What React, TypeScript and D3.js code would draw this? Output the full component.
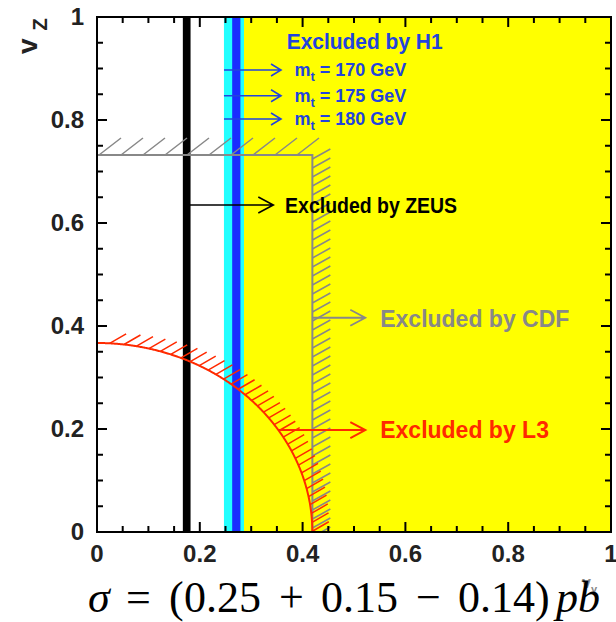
import * as d3 from 'd3';

// axis ticks
const xTickValues = [0, 0.2, 0.4, 0.6, 0.8, 1];
const xTickLabels = ['0', '0.2', '0.4', '0.6', '0.8', '1'];
const yTickValues = [0, 0.2, 0.4, 0.6, 0.8, 1];
const yTickLabels = ['0', '0.2', '0.4', '0.6', '0.8', '1'];
const minorStep = 0.05;

// ZEUS excluded band in v_gamma (black)
const zeusBand = [0.167, 0.182];
// H1 limits for mt = 170 / 175 / 180 GeV
const h1Outer = [0.247, 0.286];
const h1Inner = [0.263, 0.279];
const h1Masses = ['170', '175', '180'];
const h1ArrowVz = [0.897, 0.847, 0.802];
// CDF box limits
const cdfVz = 0.732;
const cdfVg = 0.419;
// L3 ellipse semi-axes
const l3Vg = 0.419;
const l3Vz = 0.367;

const W = 616;
const H = 622;
const margin = { top: 17, right: 5, bottom: 90, left: 97 };

const YELLOW = '#ffff00';
const CYAN = '#22ffff';
const BLUE = '#1a2cff';
const H1TXT = '#2244dd';
const GRAY = '#888888';
const RED = '#ff2a00';

function arrowPath(x0: number, x1: number, y: number, hl: number, hw: number) {
  return `M${x0},${y}L${x1},${y}M${x1 - hl},${y - hw}L${x1},${y}L${x1 - hl},${y + hw}`;
}

export default function App() {
  const x = d3.scaleLinear().domain([0, 1]).range([margin.left, W - margin.right]);
  const y = d3.scaleLinear().domain([0, 1]).range([H - margin.bottom, margin.top]);
  const [x0, x1] = x.range();
  const [y0, y1] = y.range();

  const minors = d3.range(0, 1 + 1e-9, minorStep);
  const isMajor = (v: number) => Math.abs(v / 0.2 - Math.round(v / 0.2)) < 1e-6;

  // CDF hatch strokes
  const cdfH: string[] = [];
  for (let px = x(0) + 2; px <= x(cdfVg) + 2; px += 22) {
    cdfH.push(`M${px},${y(cdfVz)}l22,-17`);
  }
  for (let py = y(cdfVz) + 4; py <= y(0) + 12; py += 9) {
    cdfH.push(`M${x(cdfVg)},${py}l18,-10`);
  }

  // L3 ellipse + hatch
  const theta = d3.range(0, 401).map((i) => (Math.PI / 2) * (1 - i / 400));
  const pts = theta.map((t) => [x(l3Vg * Math.cos(t)), y(l3Vz * Math.sin(t))] as [number, number]);
  const l3Line = d3.line()(pts) || '';
  const a = (30 * Math.PI) / 180;
  const dSp = 8;
  const l3H: string[] = [];
  let prev = Math.floor((pts[0][0] * Math.sin(a) + pts[0][1] * Math.cos(a)) / dSp);
  pts.forEach(([px, py]) => {
    const ph = Math.floor((px * Math.sin(a) + py * Math.cos(a)) / dSp);
    if (ph !== prev) {
      prev = ph;
      l3H.push(`M${px},${py}l${19 * Math.cos(a)},${-19 * Math.sin(a)}`);
    }
  });
  // where the L3 arrow leaves the curve
  const l3ArrowVz = 0.198;
  const l3ArrowVg = l3Vg * Math.sqrt(1 - (l3ArrowVz / l3Vz) ** 2);

  const sans = 'Liberation Sans, Arial, Helvetica, sans-serif';
  const serif = 'Liberation Serif, Times New Roman, serif';

  return (
    <svg
      width={W}
      height={H}
      viewBox={`0 0 ${W} ${H}`}
      style={{ position: 'absolute', left: 0, top: 0, background: '#fff' }}
      fontFamily={sans}
    >
      <defs>
        <clipPath id="plot">
          <rect x={x0} y={y1} width={x1 - x0} height={y0 - y1} />
        </clipPath>
      </defs>

      <g clipPath="url(#plot)">
        {/* H1 exclusion */}
        <rect x={x(h1Outer[1])} y={y1} width={x(1) - x(h1Outer[1])} height={y0 - y1} fill={YELLOW} />
        <rect x={x(h1Outer[0])} y={y1} width={x(h1Outer[1]) - x(h1Outer[0])} height={y0 - y1} fill={CYAN} />
        <rect x={x(h1Inner[0])} y={y1} width={x(h1Inner[1]) - x(h1Inner[0])} height={y0 - y1} fill={BLUE} />

        {/* ZEUS */}
        <rect x={x(zeusBand[0])} y={y1} width={x(zeusBand[1]) - x(zeusBand[0])} height={y0 - y1} fill="#000" />

        {/* CDF */}
        <path d={cdfH.join('')} stroke={GRAY} strokeWidth={1.5} fill="none" />
        <path
          d={`M${x(0)},${y(cdfVz)}L${x(cdfVg)},${y(cdfVz)}L${x(cdfVg)},${y(0)}`}
          stroke={GRAY}
          strokeWidth={2}
          fill="none"
        />

        {/* L3 */}
        <path d={l3H.join('')} stroke={RED} strokeWidth={1.5} fill="none" />
        <path d={l3Line} stroke={RED} strokeWidth={2} fill="none" />
      </g>

      {/* arrows */}
      {h1ArrowVz.map((vz) => (
        <path key={vz} d={arrowPath(x(h1Outer[0]), x(0.358), y(vz), 10, 6)} stroke={H1TXT} strokeWidth={1.6} fill="none" />
      ))}
      <path d={arrowPath(x(0.174), x(0.343), y(0.635), 15, 8)} stroke="#000" strokeWidth={1.6} fill="none" />
      <path d={arrowPath(x(cdfVg), x(0.522), y(0.416), 15, 8)} stroke={GRAY} strokeWidth={1.8} fill="none" />
      <path d={arrowPath(x(l3ArrowVg), x(0.522), y(l3ArrowVz), 15, 8)} stroke={RED} strokeWidth={2} fill="none" />

      {/* labels */}
      <text x={x(0.369)} y={y(0.938)} fill={H1TXT} fontWeight="bold" fontSize={22} textLength={156} lengthAdjust="spacingAndGlyphs">
        Excluded by H1
      </text>
      {h1Masses.map((m, i) => (
        <text key={m} x={x(0.384)} y={y(h1ArrowVz[i]) + 6} fill={H1TXT} fontWeight="bold" fontSize={18}>
          m<tspan fontSize={13} dy={5}>t</tspan>
          <tspan dy={-5}> = {m} GeV</tspan>
        </text>
      ))}
      <text x={x(0.366)} y={y(0.635) + 8} fill="#000" fontWeight="bold" fontSize={22} textLength={172} lengthAdjust="spacingAndGlyphs">
        Excluded by ZEUS
      </text>
      <text x={x(0.551)} y={y(0.416) + 9} fill={GRAY} fontWeight="bold" fontSize={23}>
        Excluded by CDF
      </text>
      <text x={x(0.551)} y={y(l3ArrowVz) + 8} fill={RED} fontWeight="bold" fontSize={23}>
        Excluded by L3
      </text>

      {/* frame and ticks */}
      <rect x={x0} y={y1} width={x1 - x0} height={y0 - y1} fill="none" stroke="#000" strokeWidth={2} />
      {minors.map((v) => {
        const L = isMajor(v) ? 10 : 6;
        return (
          <g key={v} stroke="#000" strokeWidth={2}>
            <line x1={x(v)} x2={x(v)} y1={y0} y2={y0 - L} />
            <line x1={x(v)} x2={x(v)} y1={y1} y2={y1 + L} />
            <line x1={x0} x2={x0 + L} y1={y(v)} y2={y(v)} />
            <line x1={x1} x2={x1 - L} y1={y(v)} y2={y(v)} />
          </g>
        );
      })}
      {xTickValues.map((v, i) => (
        <text key={v} x={x(v)} y={y0 + 30} textAnchor="middle" fontWeight="bold" fontSize={24} fill="#222">
          {xTickLabels[i]}
        </text>
      ))}
      {yTickValues.map((v, i) => (
        <text key={v} x={x0 - 13} y={y(v) + 8} textAnchor="end" fontWeight="bold" fontSize={24} fill="#222">
          {yTickLabels[i]}
        </text>
      ))}

      {/* axis titles */}
      <text transform="translate(37,54) rotate(-90)" fontWeight="bold" fontSize={28} fill="#222">
        v<tspan fontSize={20} dx={8} dy={10}>Z</tspan>
      </text>
      <text x={582} y={588} fontWeight="bold" fontSize={16} fill="#888">
        v<tspan fontSize={11} dy={5}>γ</tspan>
      </text>

      {/* cross section formula */}
      <text y={612} fontFamily={serif} fontSize={44} fill="#000">
        <tspan x={88} fontStyle="italic">σ</tspan>
        <tspan x={126}>=</tspan>
        <tspan x={169}>(</tspan>
        <tspan x={184}>0.25</tspan>
        <tspan x={279}>+</tspan>
        <tspan x={321}>0.15</tspan>
        <tspan x={416}>−</tspan>
        <tspan x={458}>0.14</tspan>
        <tspan x={535}>)</tspan>
        <tspan x={556} fontStyle="italic">pb</tspan>
      </text>
    </svg>
  );
}
